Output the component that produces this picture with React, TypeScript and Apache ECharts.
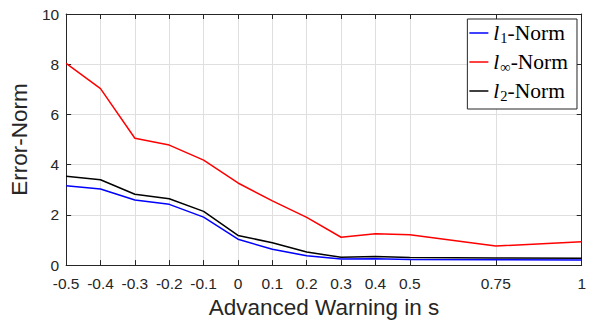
import React, { useEffect, useRef } from "react";
import * as echarts from "echarts";

const xValues = [-0.5, -0.4, -0.3, -0.2, -0.1, 0, 0.1, 0.2, 0.3, 0.4, 0.5, 0.75, 1];
const xTicks = [-0.5, -0.4, -0.3, -0.2, -0.1, 0, 0.1, 0.2, 0.3, 0.4, 0.5, 0.75, 1];
const l1Norm = [3.16, 3.03, 2.59, 2.42, 1.91, 1.03, 0.63, 0.37, 0.24, 0.25, 0.22, 0.21, 0.2];
const lInfNorm = [8.03, 7.03, 5.05, 4.78, 4.18, 3.27, 2.56, 1.9, 1.11, 1.25, 1.21, 0.76, 0.93];
const l2Norm = [3.54, 3.4, 2.82, 2.64, 2.14, 1.18, 0.89, 0.52, 0.31, 0.34, 0.3, 0.28, 0.27];
const seriesNames = ["l1-Norm", "linf-Norm", "l2-Norm"];
const legendLabels: Record<string, string> = {
  "l1-Norm": "{i|l}{s|1}{n|-Norm}",
  "linf-Norm": "{i|l}{s|∞}{n|-Norm}",
  "l2-Norm": "{i|l}{s|2}{n|-Norm}",
};

const AX = "#262626";
const GRID = "#dfdfdf";
const SANS = "'Liberation Sans', Arial, sans-serif";
const SERIF = "'Liberation Serif', 'Times New Roman', serif";

export default function App() {
  const ref = useRef<HTMLDivElement>(null);
  useEffect(() => {
    if (!ref.current) return;
    const chart = echarts.init(ref.current, undefined, { renderer: "svg" });
    const mk = (arr: number[]) => xValues.map((x, i) => [x, arr[i]]);
    const baseX = {
      type: "value",
      min: -0.5,
      max: 1,
      axisLine: { show: true, onZero: false, lineStyle: { color: AX, width: 1 } },
    };
    const baseY = {
      type: "value",
      min: 0,
      max: 10,
      interval: 2,
      axisLine: { show: true, onZero: false, lineStyle: { color: AX, width: 1 } },
    };
    chart.setOption({
      animation: false,
      backgroundColor: "#ffffff",
      grid: { left: 62, right: 7, top: 14, bottom: 55, containLabel: false },
      xAxis: [
        {
          ...baseX,
          position: "bottom",
          name: "Advanced Warning in s",
          nameLocation: "middle",
          nameGap: 30,
          nameTextStyle: { fontFamily: SANS, fontSize: 22.5, color: AX },
          axisTick: { show: true, inside: true, length: 5, customValues: xTicks, lineStyle: { color: AX } },
          axisLabel: { show: true, customValues: xTicks, fontFamily: SANS, fontSize: 15.5, color: AX, margin: 10 },
          splitLine: { show: true, lineStyle: { color: GRID, width: 1 } },
        },
        {
          ...baseX,
          position: "top",
          axisTick: { show: true, inside: true, length: 5, customValues: xTicks, lineStyle: { color: AX } },
          axisLabel: { show: false },
          splitLine: { show: false },
        },
      ],
      yAxis: [
        {
          ...baseY,
          position: "left",
          name: "Error-Norm",
          nameLocation: "middle",
          nameGap: 21,
          nameTextStyle: { fontFamily: SANS, fontSize: 22.5, color: AX },
          axisTick: { show: true, inside: true, length: 5, lineStyle: { color: AX } },
          axisLabel: { show: true, fontFamily: SANS, fontSize: 15.5, color: AX, margin: 7 },
          splitLine: { show: true, lineStyle: { color: GRID, width: 1 } },
        },
        {
          ...baseY,
          position: "right",
          axisTick: { show: true, inside: true, length: 5, lineStyle: { color: AX } },
          axisLabel: { show: false },
          splitLine: { show: false },
        },
      ],
      legend: {
        orient: "vertical",
        right: 12,
        top: 19,
        data: seriesNames,
        icon: "rect",
        backgroundColor: "#ffffff",
        borderColor: AX,
        borderWidth: 1,
        borderRadius: 0,
        padding: [3, 9, 6, 2],
        itemGap: 6,
        itemWidth: 19,
        itemHeight: 1.5,
        formatter: (name: string) => legendLabels[name],
        textStyle: {
          color: "#000",
          fontFamily: SERIF,
          fontSize: 21,
          rich: {
            i: { fontFamily: SERIF, fontStyle: "italic", fontSize: 21.5, color: "#000" },
            s: { fontFamily: SERIF, fontSize: 14.5, color: "#000", verticalAlign: "bottom", padding: [9, 0, 0, 1] },
            n: { fontFamily: SERIF, fontSize: 21.5, color: "#000" },
          },
        },
      },
      series: [
        { name: seriesNames[0], type: "line", data: mk(l1Norm), symbol: "none", lineStyle: { color: "#0000ff", width: 1.5 }, itemStyle: { color: "#0000ff" } },
        { name: seriesNames[1], type: "line", data: mk(lInfNorm), symbol: "none", lineStyle: { color: "#ff0000", width: 1.5 }, itemStyle: { color: "#ff0000" } },
        { name: seriesNames[2], type: "line", data: mk(l2Norm), symbol: "none", lineStyle: { color: "#000000", width: 1.5 }, itemStyle: { color: "#000000" } },
      ],
    });
    return () => chart.dispose();
  }, []);
  return <div ref={ref} style={{ width: 589, height: 324, position: "absolute", left: 0, top: 0 }} />;
}
